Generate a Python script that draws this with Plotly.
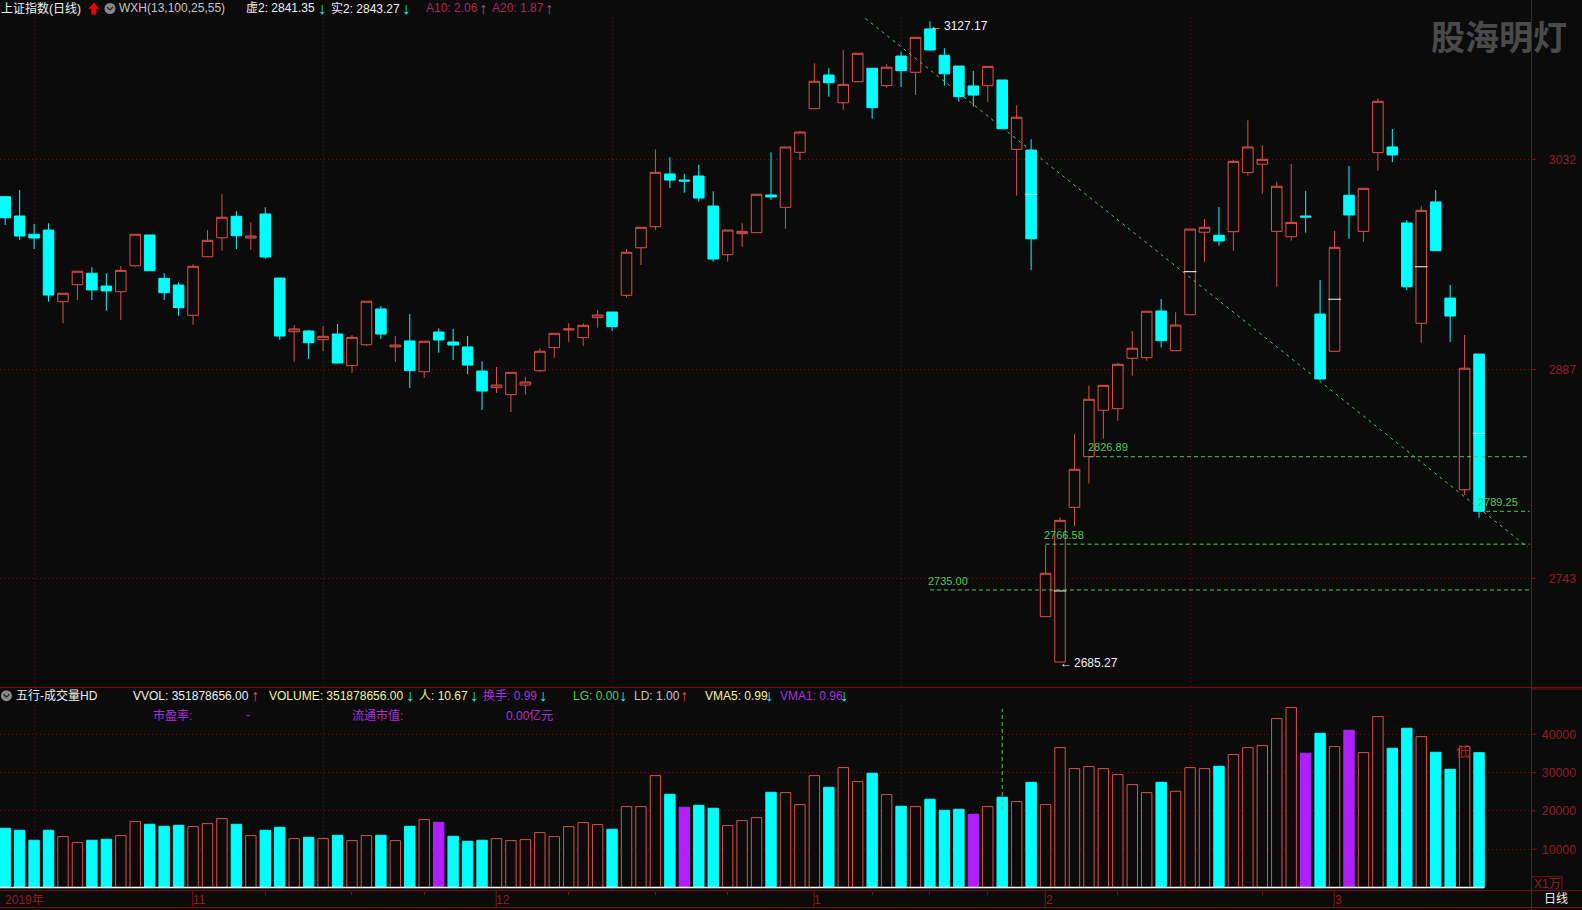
import plotly.graph_objects as go

# ---------- data ----------
open_ = [3006.2,2992.9,2980.3,2983.2,2933.8,2945.5,2953.4,2944.6,2940.7,2958.6,
 2979.8,2949.9,2945.3,2924.4,2964.8,2977.9,2992.7,2977.7,2994.3,2950.1,
 2913.1,2913.6,2907.6,2911.5,2889.7,2904.1,2928.8,2902.6,2906.7,2885.5,
 2912.9,2906.0,2902.6,2886.0,2874.5,2869.7,2876.3,2886.2,2902.1,2914.3,
 2909.0,2922.8,2926.7,2938.2,2971.0,2985.5,3021.9,3017.7,3020.5,2999.8,
 2966.2,2980.7,2981.4,3007.4,2998.9,3036.8,3066.9,3090.1,3071.0,3085.5,
 3094.8,3082.8,3103.2,3092.0,3121.9,3103.7,3096.3,3082.6,3082.8,3086.7,
 3038.9,3038.4,2716.6,2685.27,2792.0,2826.9,2858.9,2860.0,2894.8,2895.2,
 2927.4,2900.0,2924.8,2981.7,2979.6,2982.1,3022.8,3028.6,2982.3,2978.6,
 2992.9,2925.3,2899.6,3007.2,2982.3,3036.6,3040.5,2988.1,2918.9,3002.6,
 2936.3,2804.1,2897.7]
high = [3006.7,3010.8,2987.4,2987.9,2939.6,2954.8,2957.5,2953.4,2958.4,2980.3,
 2979.8,2953.4,2947.2,2959.6,2983.2,3007.9,2996.3,2988.5,2998.9,2950.1,
 2917.7,2914.3,2917.0,2918.4,2910.8,2934.1,2930.8,2910.1,2925.3,2906.5,
 2915.4,2915.0,2910.1,2892.7,2888.8,2885.1,2881.9,2901.7,2912.0,2918.9,
 2918.9,2928.1,2926.7,2970.1,2985.1,3038.9,3033.4,3021.9,3028.1,3009.9,
 2983.2,2987.9,3007.9,3036.8,3040.5,3051.5,3098.2,3094.8,3107.2,3105.1,
 3094.8,3097.5,3106.2,3116.1,3127.17,3108.6,3096.3,3092.9,3096.1,3086.7,
 3069.2,3045.8,2766.0,2785.1,2842.3,2875.9,2876.1,2891.7,2913.6,2927.2,
 2935.7,2926.5,2983.9,2990.8,2999.1,3031.5,3058.9,3041.7,3016.6,3028.8,
 3010.1,2948.8,2982.6,3027.4,3012.0,3074.1,3052.9,2990.1,3000.0,3010.8,
 2945.3,2910.8,2897.7]
low = [2986.7,2976.3,2970.1,2933.8,2918.9,2935.0,2935.0,2927.6,2921.2,2957.9,
 2955.2,2935.0,2924.1,2917.9,2964.8,2969.0,2970.1,2969.4,2963.4,2907.4,
 2892.4,2894.3,2899.8,2891.5,2884.8,2903.2,2908.1,2892.2,2874.3,2881.2,
 2898.6,2893.6,2883.9,2859.1,2870.8,2857.7,2869.7,2885.5,2895.2,2906.2,
 2903.2,2915.9,2913.6,2936.6,2959.1,2983.2,3012.2,3009.0,3002.8,2961.4,
 2961.4,2971.7,2981.4,3003.9,2984.1,3031.5,3066.9,3075.2,3066.2,3085.5,
 3060.0,3081.4,3081.9,3076.3,3106.9,3082.8,3071.7,3068.3,3071.7,3052.7,
 3006.9,2955.7,2716.6,2685.27,2779.3,2808.3,2839.3,2851.7,2882.8,2893.1,
 2902.3,2900.0,2924.8,2961.4,2972.4,2969.0,3020.7,3008.3,2944.1,2975.9,
 2981.4,2879.8,2899.6,2977.2,2975.2,3024.1,3030.1,2941.7,2905.5,2969.0,
 2906.0,2800.5,2784.8]
close = [2991.7,2979.1,2977.7,2938.4,2939.6,2954.8,2941.9,2941.2,2955.4,2980.3,
 2955.2,2940.0,2929.7,2958.2,2976.1,2992.0,2979.3,2979.1,2964.6,2910.1,
 2915.0,2905.5,2909.9,2891.5,2909.2,2934.1,2911.5,2903.9,2886.2,2906.5,
 2907.4,2903.9,2890.1,2872.2,2876.3,2885.1,2878.4,2899.6,2912.0,2915.0,
 2917.5,2924.6,2916.6,2967.9,2985.1,3023.0,3017.7,3017.0,3005.3,2963.2,
 2983.2,2982.3,3007.9,3006.0,3040.5,3050.8,3085.8,3084.8,3083.7,3105.1,
 3067.6,3095.5,3093.1,3116.1,3107.4,3091.0,3075.2,3076.3,3096.1,3053.1,
 3061.0,2977.2,2746.5,2783.0,2818.2,2866.5,2876.1,2890.6,2901.7,2927.2,
 2906.9,2917.7,2983.9,2985.1,2975.7,3030.6,3040.5,3032.0,3013.4,2988.5,
 2992.2,2880.5,2971.3,2993.6,3012.0,3072.0,3035.0,2944.1,2996.8,2969.0,
 2923.9,2887.9,2789.25]
volume = [15480,14960,12350,14960,13300,11740,12350,12610,13570,17220,
 16520,16000,16260,15910,16700,18000,16520,13570,14960,15740,
 12780,13130,12780,13650,12260,13570,13650,12260,16000,17740,
 17040,13390,12090,12350,12780,12260,12520,14350,13300,15910,
 16960,16440,15220,21130,21130,29220,24350,20960,21480,20700,
 16170,17480,18260,24870,24780,21650,29220,26170,31310,27650,
 29830,24260,21220,21130,23040,20170,20440,19130,21130,23570,
 22440,27480,21650,36520,31040,31570,31040,29480,26870,24780,
 27480,25130,31310,31040,31650,34700,36520,37040,44090,46960,
 35040,40260,36780,41050,35220,44610,36350,41570,39390,35310,
 30870,36780,35188]
vol_kind = list("ccccrrccrrcccrrrcrccrcrcrrcrcrpcccrrrrrrrrcrrrcpccrrrcrrrcrrcrcrcccprcrcrrrrrrrrcrrrcrrrrrpcrprrccrccrc")

mark_index = [71,73,82,92,98,102]
mark_price = [3007.9,2734.3,2954.5,2935.5,2957.9,2843.0]

trend_x = [59.53,105.38]
trend_y = [3129.2,2764.4]
level_values = [2826.89,2789.25,2766.58,2735.00]
level_labels = ["2826.89","2789.25","2766.58","2735.00"]
level_start = [75,102,72,64]
level_end = 105.5
vline_index = 69
vline_values = [20250,46600]

price_ticks = [3032,2887,2743]
volume_ticks = [10000,20000,30000,40000]
grid_index = [2,22,42,62,82]
small_ticks = [18,24,29,39,45,50,60,64,68,77,87]
month_index = [0,13,34,56,72,92]
month_labels = ["2019年","11","12","1","2","3"]

# ---------- style ----------
BG = "#0b0b0c"
RED = "#dc5148"
CYAN = "#00ffff"
PURPLE = "#b020ff"
GREEN = "#58c858"
DKRED = "#7d1212"
GRID = "#641414"
TICKRED = "#961c1c"
DOT = "1px,3px"
W, H = 1582, 910
FONT = "Liberation Sans, Noto Sans CJK SC, sans-serif"
fx = lambda p: p / W
fy = lambda p: 1 - p / H

n = len(close)
idx = list(range(n))
fig = go.Figure()

fig.add_trace(go.Candlestick(
    x=idx, open=open_, high=high, low=low, close=close,
    increasing=dict(line=dict(color=RED, width=1), fillcolor=BG),
    decreasing=dict(line=dict(color=CYAN, width=1), fillcolor=CYAN),
    whiskerwidth=0, hoverinfo="skip", xaxis="x", yaxis="y", showlegend=False))

fig.add_trace(go.Scatter(x=mark_index, y=mark_price, mode="markers",
    marker=dict(symbol="line-ew", size=9,
                line=dict(color=["#ffffff" if vol_kind[i] == "r" else "#a8ffff" for i in mark_index], width=1)),
    hoverinfo="skip", showlegend=False))

fig.add_trace(go.Scatter(x=trend_x, y=trend_y, mode="lines",
    line=dict(color=GREEN, width=1, dash="3px,4px"), hoverinfo="skip", showlegend=False))

for v, s in zip(level_values, level_start):
    fig.add_trace(go.Scatter(x=[s, level_end], y=[v, v], mode="lines",
        line=dict(color=GREEN, width=1, dash="4px,3px"), hoverinfo="skip", showlegend=False))

for kind, fill, line in (("r", BG, RED), ("c", CYAN, CYAN), ("p", PURPLE, PURPLE)):
    xs = [i for i in idx if vol_kind[i] == kind]
    ys = [volume[i] for i in xs]
    fig.add_trace(go.Bar(x=xs, y=ys, width=0.72, marker=dict(color=fill, line=dict(color=line, width=1)),
        hoverinfo="skip", showlegend=False, xaxis="x2", yaxis="y2"))

fig.add_trace(go.Scatter(x=[-0.36, n - 1 + 0.36], y=[0, 0], mode="lines", line=dict(color="#ffffff", width=1.5),
    hoverinfo="skip", showlegend=False, xaxis="x2", yaxis="y2"))
fig.add_trace(go.Scatter(x=[vline_index, vline_index], y=vline_values, mode="lines",
    line=dict(color=GREEN, width=1, dash="4px,3px"), hoverinfo="skip", showlegend=False, xaxis="x2", yaxis="y2"))

XR = [-0.36, 105.63]
anns = []

def T(x, y, text, color, size=12, anchor="left", family=FONT, xref="paper", yref="paper"):
    anns.append(dict(x=x, y=y, xref=xref, yref=yref, text=text, showarrow=False, xanchor=anchor, yanchor="middle",
                     font=dict(color=color, size=size, family=family), borderpad=0, borderwidth=0))

Y1, Y2, Y3 = 8.5, 695.7, 715.3
WHITE, GRAY, PINK, YEL = "#f0f0f0", "#c4c4c4", "#b0245c", "#f5f59a"
MAG = "#b030d8"
for px, py, txt, col in [
    (1, Y1, "上证指数(日线)", WHITE), (119, Y1, "WXH(13,100,25,55)", GRAY),
    (246, Y1, "虚2: 2841.35", WHITE), (331, Y1, "实2: 2843.27", WHITE),
    (426, Y1, "A10: 2.06", PINK), (492, Y1, "A20: 1.87", PINK),
    (16, Y2, "五行-成交量HD", WHITE), (133, Y2, "VVOL: 351878656.00", WHITE),
    (269, Y2, "VOLUME: 351878656.00", YEL), (419, Y2, "人: 10.67", YEL),
    (483, Y2, "换手: 0.99", MAG), (573, Y2, "LG: 0.00", GREEN),
    (634, Y2, "LD: 1.00", GRAY), (705, Y2, "VMA5: 0.99", YEL), (780, Y2, "VMA1: 0.96", MAG),
    (153, Y3, "市盈率:", MAG), (246, Y3, "-", MAG),
    (352, Y3, "流通市值:", MAG), (506, Y3, "0.00亿元", MAG),
]:
    T(fx(px), fy(py), txt, col)

for px, py, ch, col in [
    (321.5, Y1, "↓", CYAN), (406.4, Y1, "↓", CYAN), (482.6, Y1, "↑", "#d84060"), (548.8, Y1, "↑", "#d84060"),
    (254.6, Y2, "↑", RED), (409.6, Y2, "↓", CYAN), (473.6, Y2, "↓", CYAN), (542.5, Y2, "↓", CYAN),
    (623.3, Y2, "↓", CYAN), (684.3, Y2, "↑", RED), (769.3, Y2, "↓", CYAN), (844.3, Y2, "↓", CYAN),
]:
    T(fx(px), fy(py), "<b>" + ch + "</b>", col, size=16, anchor="center", family="Liberation Sans")

T(fx(1431), fy(36), "<b>股海明灯</b>", "#4a4a4a", size=34, family="Noto Sans CJK SC")
# extreme labels, each an arrow glyph next to its value
T(73.0, 2684.6, "←", "#f0f0f0", size=12, xref="x", yref="y")
T(73.98, 2684.6, "2685.27", "#f0f0f0", size=12, xref="x", yref="y")
T(64.0, 3124, "←", "#f0f0f0", size=12, xref="x", yref="y")
T(65.0, 3124, "3127.17", "#f0f0f0", size=12, xref="x", yref="y")

T(74.97, 2833.8, level_labels[0], GREEN, size=11, xref="x", yref="y")
T(101.92, 2795.7, level_labels[1], GREEN, size=11, xref="x", yref="y")
T(71.86, 2773.0, level_labels[2], GREEN, size=11, xref="x", yref="y")
T(63.84, 2741.3, level_labels[3], GREEN, size=11, xref="x", yref="y")

T(fx(1462.4), fy(751), "低", "#c01818", size=13, anchor="center")

for m, lab in zip(month_index, month_labels):
    T(m + 0.0, fy(899.5), lab, TICKRED, size=12, xref="x2")
T(fx(1534), fy(884), "X1万", TICKRED, size=12)
T(fx(1544), fy(899.3), "日线", "#f0f0f0", size=12)

shapes = []
def L(x0, y0, x1, y1, color=DKRED, width=1):
    shapes.append(dict(type="line", xref="paper", yref="paper", x0=fx(x0), y0=fy(y0), x1=fx(x1), y1=fy(y1),
                       line=dict(color=color, width=width), layer="above"))
L(1531.5, 0, 1531.5, 910)
L(0, 687.3, W, 687.3)
L(1531.5, 689, W, 689)
L(0, 890.7, W, 890.7)
L(0, 907.7, W, 907.7)
L(1562, 876.7, 1562, 890.7)
L(1532, 876.7, 1562, 876.7)
for t in price_ticks:
    shapes.append(dict(type="line", xref="paper", yref="y", x0=fx(1531.5), x1=fx(1536.5), y0=t, y1=t, line=dict(color=DKRED, width=1)))
for t in volume_ticks:
    shapes.append(dict(type="line", xref="paper", yref="y2", x0=fx(1531.5), x1=fx(1536.5), y0=t, y1=t, line=dict(color=DKRED, width=1)))
for m in month_index[1:]:
    shapes.append(dict(type="line", xref="x2", yref="paper", x0=m - 0.02, x1=m - 0.02, y0=fy(890.7), y1=fy(907.7), line=dict(color=DKRED, width=1)))

# header icons: grey round buttons with a chevron, and the red up arrow
for cx, cy in [(110, 8.5), (6.4, 695.7)]:
    shapes.append(dict(type="circle", xref="paper", yref="paper", x0=fx(cx - 5.5), x1=fx(cx + 5.5), y0=fy(cy + 5.5), y1=fy(cy - 5.5),
                       fillcolor="#8a8a8a", line=dict(width=0), layer="above"))
    L(cx - 3, cy - 1.5, cx, cy + 1.5, "#2a2a2a", 1.5)
    L(cx, cy + 1.5, cx + 3, cy - 1.5, "#2a2a2a", 1.5)
ax, ay = 93.8, 8.5
pts = [(ax, ay - 6), (ax + 5.5, ay + 0.5), (ax + 2.5, ay + 0.5), (ax + 2.5, ay + 6), (ax - 2.5, ay + 6), (ax - 2.5, ay + 0.5), (ax - 5.5, ay + 0.5)]
shapes.append(dict(type="path", xref="paper", yref="paper", fillcolor="#f00000", line=dict(width=0), layer="above",
                   path="M " + " L ".join("%.5f,%.5f" % (fx(a), fy(b)) for a, b in pts) + " Z"))

fig.update_layout(
    width=W, height=H, margin=dict(l=0, r=0, t=0, b=0),
    paper_bgcolor=BG, plot_bgcolor=BG, showlegend=False, barmode="overlay", bargap=0.28, boxgap=0.27, boxgroupgap=0,
    annotations=anns, shapes=shapes, font=dict(family=FONT, size=12, color=TICKRED),
    xaxis=dict(domain=[0, fx(1531.5)], range=XR, anchor="y", rangeslider=dict(visible=False),
               tickmode="array", tickvals=grid_index, showticklabels=False, ticks="",
               showgrid=True, gridcolor=GRID, griddash=DOT, gridwidth=1, zeroline=False, showline=False),
    yaxis=dict(domain=[fy(687.3), fy(18)], range=[2667.86, 3129.45], anchor="free", position=fx(1576), side="left",
               tickmode="array", tickvals=price_ticks, ticktext=[str(t) for t in price_ticks],
               tickfont=dict(color=TICKRED, size=12.3, family=FONT), ticks="",
               showgrid=True, gridcolor=GRID, griddash=DOT, gridwidth=1, zeroline=False, showline=False),
    xaxis2=dict(domain=[0, fx(1531.5)], range=XR, anchor="y2",
                tickmode="array", tickvals=small_ticks, showticklabels=False, ticks="outside", ticklen=3, tickcolor=DKRED,
                showgrid=False, zeroline=False, showline=False,
                minor=dict(tickmode="array", tickvals=grid_index, showgrid=True, gridcolor=GRID, griddash=DOT, gridwidth=1, ticks="")),
    yaxis2=dict(domain=[fy(890.7), fy(705)], range=[-809, 47639], anchor="free", position=fx(1576), side="left",
                tickmode="array", tickvals=volume_ticks, ticktext=[str(t) for t in volume_ticks],
                tickfont=dict(color=TICKRED, size=12.3, family=FONT), ticks="",
                showgrid=True, gridcolor=GRID, griddash=DOT, gridwidth=1, zeroline=False, showline=False),
)

fig.write_html("out.html", config=dict(displayModeBar=False),
               post_script="document.body.style.margin='0';document.body.style.background='%s';document.body.style.overflow='hidden';" % BG)
